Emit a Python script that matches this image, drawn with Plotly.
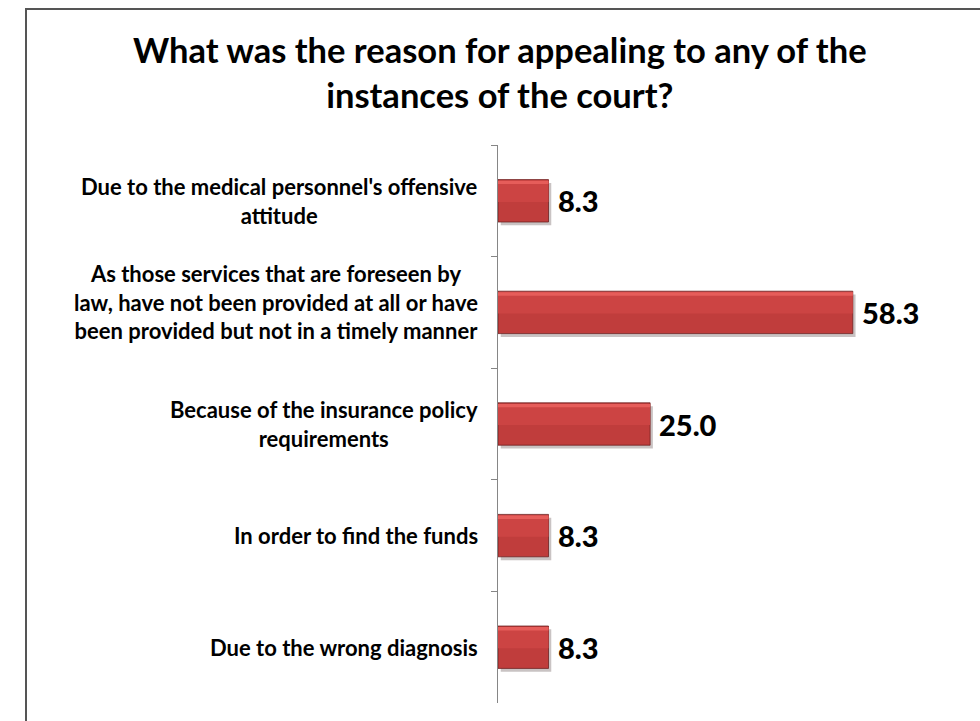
import plotly.graph_objects as go

# Survey answers, top to bottom
categories = [
    "Due to the medical personnel's offensive<br>attitude",
    "As those services that are foreseen by<br>law, have not been provided at all or have<br>been provided but not in a timely manner",
    "Because of the insurance policy<br>requirements",
    "In order to find the funds",
    "Due to the wrong diagnosis",
]
values = [8.3, 58.3, 25.0, 8.3, 8.3]
title_text = "What was the reason for appealing to any of the<br>instances of the court?"

# Page geometry (pixels)
W, H = 980, 721
L, R, T, B = 498, 924, 145, 703
X_MAX = 70

def px_x(p):
    return (p - L) / (R - L)

def px_y(p):
    return (B - p) / (B - T)

FONT = "Lato"
BAR_W = 0.38
half = BAR_W / 2

fig = go.Figure()

# soft drop shadow behind each bar
fig.add_trace(go.Bar(
    y=categories, x=values, orientation="h",
    base=0.45, width=BAR_W, offset=-half + 0.03,
    marker=dict(color="rgba(60,40,40,0.28)", line=dict(width=0)),
    hoverinfo="skip", showlegend=False,
))
# main bar body
fig.add_trace(go.Bar(
    y=categories, x=values, orientation="h",
    width=BAR_W, offset=-half,
    marker=dict(color="#c03d3c", line=dict(color="rgba(105,30,30,0.75)", width=1)),
    showlegend=False,
))
# lighter upper part for a bevelled look
fig.add_trace(go.Bar(
    y=categories, x=values, orientation="h",
    width=BAR_W * 0.5, offset=-half + 0.01,
    marker=dict(color="#cc4443", line=dict(width=0)),
    hoverinfo="skip", showlegend=False,
))
# thin highlight near the top edge
fig.add_trace(go.Bar(
    y=categories, x=values, orientation="h",
    width=BAR_W * 0.08, offset=-half + 0.01,
    marker=dict(color="#e65d5a", line=dict(width=0)),
    hoverinfo="skip", showlegend=False,
))

annotations = []
# value labels to the right of each bar
for cat, v in zip(categories, values):
    annotations.append(dict(
        x=v, y=cat, xref="x", yref="y", text=f"{v:.1f}",
        xanchor="left", yanchor="middle", xshift=7, showarrow=False,
        font=dict(family=FONT, size=29, color="#000000", weight=900),
    ))
# category labels, lines centred
for i, cat in enumerate(categories):
    annotations.append(dict(
        x=0, y=cat, xref="paper", yref="y", text=cat,
        xanchor="right", yanchor="middle", align="center", xshift=-18,
        yshift=10 if i == 1 else 0, showarrow=False,
        font=dict(family=FONT, size=22, color="#000000", weight="bold"),
    ))
# chart title
annotations.append(dict(
    x=px_x(500), y=px_y(72), xref="paper", yref="paper",
    text=title_text, xanchor="center", yanchor="middle",
    align="center", showarrow=False,
    font=dict(family=FONT, size=34.5, color="#000000", weight="bold"),
))

fig.update_layout(
    width=W, height=H,
    margin=dict(l=L, r=W - R, t=T, b=H - B, pad=0),
    barmode="overlay",
    paper_bgcolor="white", plot_bgcolor="white",
    showlegend=False,
    annotations=annotations,
    shapes=[dict(
        type="rect", xref="paper", yref="paper",
        x0=px_x(26), x1=px_x(1000), y0=px_y(740), y1=px_y(9),
        line=dict(color="#555555", width=2), fillcolor="rgba(0,0,0,0)",
        layer="below",
    )],
    xaxis=dict(range=[0, X_MAX], visible=False, fixedrange=True),
    yaxis=dict(
        type="category", categoryorder="array", categoryarray=categories,
        autorange="reversed", tickson="boundaries", ticks="outside",
        ticklen=6, tickcolor="#868686", showticklabels=False,
        showline=True, linecolor="#868686", linewidth=1,
        showgrid=False, zeroline=False,
    ),
)

fig.write_html("out.html")
